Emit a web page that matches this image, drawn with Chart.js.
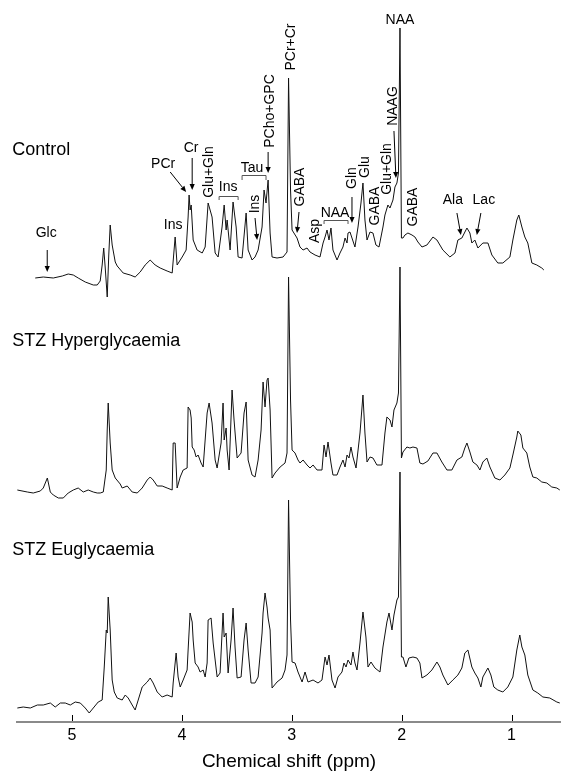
<!DOCTYPE html>
<html><head><meta charset="utf-8">
<script src="https://cdn.jsdelivr.net/npm/chart.js@4.4.1/dist/chart.umd.min.js"></script>
<style>html,body{margin:0;padding:0;background:#fff}canvas{display:block}</style>
</head><body>
<canvas id="c" width="561" height="771"></canvas>
<script>
// ---------- DATA ----------
const tickLabels = [5, 4, 3, 2, 1];
const spectrumNames = ["Control", "STZ Hyperglycaemia", "STZ Euglycaemia"];

const controlPpm = [5.334,5.261,5.170,5.088,5.034,4.988,4.943,4.879,4.806,4.770,
4.743,4.725,4.711,4.697,4.679,4.665,4.652,4.634,4.606,4.588,
4.534,4.470,4.425,4.379,4.334,4.288,4.243,4.197,4.134,4.088,
4.061,4.043,3.997,3.961,3.943,3.934,3.925,3.915,3.897,3.861,
3.815,3.788,3.761,3.725,3.697,3.670,3.634,3.615,3.597,3.588,
3.561,3.534,3.506,3.488,3.452,3.415,3.397,3.361,3.334,3.306,
3.270,3.252,3.234,3.215,3.197,3.179,3.134,3.079,3.043,3.029,
3.011,2.997,2.952,2.925,2.897,2.861,2.834,2.788,2.743,2.715,
2.697,2.679,2.661,2.643,2.625,2.588,2.561,2.534,2.515,2.497,
2.488,2.470,2.452,2.425,2.397,2.370,2.352,2.334,2.315,2.288,
2.261,2.234,2.206,2.170,2.152,2.125,2.106,2.079,2.061,2.043,
2.029,2.015,2.002,1.988,1.970,1.943,1.906,1.879,1.852,1.815,
1.770,1.715,1.679,1.625,1.561,1.515,1.488,1.452,1.406,1.379,
1.361,1.334,1.306,1.261,1.215,1.179,1.125,1.079,1.015,0.988,
0.952,0.934,0.906,0.879,0.852,0.815,0.770,0.725,0.706];
const controlIntensity = [12,13,12,14,16,15,12,8,5,5,
9,25,42,22,-7,35,65,45,28,24,
17,15,13,18,25,30,25,22,19,17,
53,25,33,40,73,95,80,85,50,40,
37,43,87,73,37,33,63,85,60,70,
40,88,63,33,32,77,40,30,33,40,
63,100,87,110,57,33,32,33,38,212,
100,60,52,43,40,42,38,35,33,47,
53,60,50,62,40,30,37,43,52,47,
57,58,52,43,63,87,107,70,50,58,
57,45,43,63,75,85,82,90,103,107,
117,262,52,52,55,57,55,53,48,43,
45,53,50,40,33,37,50,52,62,57,
47,50,42,47,47,35,27,27,33,50,
70,75,63,53,47,27,25,22,20];

const hyperPpm = [5.497,5.406,5.352,5.288,5.261,5.224,5.197,5.170,5.124,5.079,
5.034,4.988,4.943,4.897,4.852,4.806,4.770,4.743,4.715,4.688,
4.679,4.670,4.652,4.634,4.606,4.561,4.543,4.497,4.452,4.406,
4.361,4.315,4.288,4.261,4.224,4.179,4.134,4.088,4.079,4.061,
4.043,4.015,3.988,3.952,3.943,3.925,3.915,3.906,3.888,3.870,
3.852,3.825,3.806,3.770,3.752,3.725,3.697,3.679,3.643,3.625,
3.615,3.597,3.588,3.570,3.543,3.525,3.497,3.461,3.434,3.415,
3.397,3.361,3.334,3.306,3.279,3.261,3.243,3.225,3.215,3.197,
3.179,3.152,3.106,3.061,3.043,3.029,3.011,2.997,2.970,2.943,
2.925,2.897,2.861,2.834,2.806,2.770,2.725,2.706,2.688,2.670,
2.643,2.625,2.588,2.561,2.534,2.515,2.497,2.479,2.461,2.443,
2.415,2.379,2.352,2.334,2.315,2.288,2.261,2.225,2.179,2.152,
2.134,2.106,2.088,2.070,2.043,2.029,2.015,2.002,1.988,1.952,
1.925,1.897,1.861,1.834,1.806,1.761,1.715,1.679,1.634,1.588,
1.543,1.497,1.452,1.425,1.406,1.379,1.352,1.315,1.288,1.261,
1.225,1.197,1.152,1.106,1.061,1.015,0.988,0.952,0.943,0.915,
0.897,0.861,0.834,0.806,0.770,0.725,0.679,0.634,0.588,0.561];
const hyperIntensity = [10,8,7,9,12,22,8,5,2,2,
7,10,12,8,10,8,7,7,8,30,
70,97,57,30,22,16,12,14,8,7,
12,20,23,20,14,14,12,10,57,57,
12,23,30,32,93,90,82,53,50,43,
45,37,33,87,97,77,40,32,57,97,
60,72,50,30,110,80,42,47,87,98,
40,25,23,40,70,118,93,120,122,90,
22,27,33,37,47,223,100,50,47,40,
37,40,35,32,35,30,30,55,43,58,
37,25,25,33,40,33,45,42,53,43,
32,67,105,67,38,43,42,35,35,67,
83,80,73,90,97,107,233,42,48,53,
52,53,52,37,36,39,47,47,38,30,
30,40,43,52,57,48,38,35,30,38,
42,33,22,20,25,32,45,63,69,65,
52,47,33,23,22,18,17,13,12,10];

const euPpm = [5.497,5.443,5.379,5.315,5.261,5.197,5.152,5.106,5.061,5.015,
4.970,4.924,4.879,4.843,4.806,4.761,4.725,4.706,4.688,4.679,
4.670,4.652,4.634,4.615,4.588,4.543,4.515,4.488,4.452,4.425,
4.397,4.361,4.315,4.288,4.261,4.224,4.179,4.134,4.088,4.079,
4.052,4.034,4.015,3.988,3.952,3.943,3.925,3.906,3.897,3.879,
3.852,3.834,3.806,3.788,3.770,3.761,3.734,3.715,3.679,3.652,
3.625,3.615,3.597,3.579,3.552,3.534,3.516,3.497,3.461,3.434,
3.415,3.397,3.370,3.334,3.306,3.270,3.261,3.243,3.225,3.215,
3.197,3.179,3.134,3.088,3.061,3.043,3.029,3.011,2.997,2.970,
2.943,2.906,2.879,2.852,2.806,2.761,2.725,2.697,2.679,2.661,
2.634,2.606,2.579,2.543,2.525,2.506,2.488,2.461,2.443,2.425,
2.406,2.379,2.352,2.325,2.306,2.279,2.243,2.197,2.170,2.134,
2.115,2.088,2.070,2.043,2.029,2.015,2.002,1.988,1.961,1.934,
1.897,1.861,1.834,1.815,1.770,1.725,1.679,1.652,1.625,1.579,
1.534,1.488,1.452,1.425,1.397,1.361,1.334,1.306,1.279,1.261,
1.215,1.188,1.161,1.125,1.079,1.034,0.988,0.952,0.925,0.906,
0.879,0.852,0.806,0.761,0.715,0.652,0.588,0.561];
const euIntensity = [12,13,12,15,15,17,13,17,17,15,
18,17,12,7,12,18,20,53,90,87,
123,90,40,28,22,20,25,22,15,10,
20,33,38,42,37,28,23,25,23,37,
67,43,33,40,50,70,107,98,80,57,
53,48,50,43,57,100,102,77,43,47,
107,83,87,47,80,112,73,42,43,80,
97,70,37,37,43,87,107,127,113,102,
90,32,38,42,50,65,220,100,58,57,
48,38,48,38,40,37,40,63,55,65,
40,32,43,48,57,53,60,55,68,57,
50,77,108,83,53,58,52,48,73,98,
107,90,105,120,123,248,63,63,53,62,
63,62,57,42,45,50,58,53,45,35,
40,45,52,67,70,53,47,42,33,43,
52,45,33,30,28,33,43,70,85,73,
65,45,30,27,23,22,18,17];

// ---------- LAYOUT / STYLE (not data) ----------
const stackOffsets = [432, 222, 2];
const namePositions = [{x:5.543, y:572}, {x:5.543, y:381}, {x:5.543, y:172}];
const labelFont = '14px "Liberation Sans", Arial, sans-serif';
const nameFont = '18px "Liberation Sans", Arial, sans-serif';

const annotations = [
 {t:'Glc', x:5.234, y:489},
 {t:'Ins', x:4.079, y:497},
 {t:'PCr', x:4.170, y:558},
 {t:'Cr', x:3.916, y:574},
 {t:'Glu+Gln', x:3.752, y:550, rot:true},
 {t:'Ins', x:3.579, y:535},
 {t:'Tau', x:3.361, y:554},
 {t:'Ins', x:3.334, y:518, rot:true},
 {t:'PCho+GPC', x:3.197, y:611, rot:true},
 {t:'PCr+Cr', x:3.006, y:675, rot:true},
 {t:'NAA', x:2.015, y:702},
 {t:'NAAG', x:2.079, y:616, rot:true},
 {t:'GABA', x:2.925, y:535, rot:true},
 {t:'Asp', x:2.788, y:491, rot:true},
 {t:'NAA', x:2.606, y:509},
 {t:'Gln', x:2.452, y:544, rot:true},
 {t:'Glu', x:2.334, y:555, rot:true},
 {t:'GABA', x:2.243, y:516, rot:true},
 {t:'Glu+Gln', x:2.134, y:553, rot:true},
 {t:'GABA', x:1.897, y:515, rot:true},
 {t:'Ala', x:1.534, y:522},
 {t:'Lac', x:1.252, y:522}
];
const arrows = [
 [5.225,472,5.225,450],[4.106,550,3.961,530],[3.906,564,3.906,532],
 [3.334,504,3.315,482],[3.215,570,3.215,549],[2.070,591,2.052,544],
 [2.934,510,2.952,489],[2.452,525,2.452,499],[1.497,509,1.461,487],
 [1.279,509,1.316,487]
];
const brackets = [[3.661,3.488,526,522],[3.452,3.234,547,542],[2.706,2.488,502,498]];

function toPoints(ppm, inten, off){ return ppm.map((p,i)=>({x:p, y:inten[i]+off})); }

const overlay = {
  id:'overlay',
  afterDraw(chart){
    const {ctx, scales:{x, y}, chartArea} = chart;
    ctx.save();
    ctx.strokeStyle = '#000'; ctx.fillStyle = '#000'; ctx.lineWidth = 1;
    // inward tick marks
    tickLabels.forEach(v=>{
      const px = Math.round(x.getPixelForValue(v)) + 0.5;
      ctx.beginPath(); ctx.moveTo(px, chartArea.bottom - 1); ctx.lineTo(px, chartArea.bottom - 7); ctx.stroke();
    });
    // spectrum names
    ctx.font = nameFont; ctx.textAlign = 'left'; ctx.textBaseline = 'middle';
    spectrumNames.forEach((n,i)=> ctx.fillText(n, x.getPixelForValue(namePositions[i].x), y.getPixelForValue(namePositions[i].y)));
    // labels
    ctx.font = labelFont; ctx.textAlign = 'center';
    annotations.forEach(a=>{
      const px = x.getPixelForValue(a.x), py = y.getPixelForValue(a.y);
      if (a.rot){ ctx.save(); ctx.translate(px, py); ctx.rotate(-Math.PI/2); ctx.fillText(a.t, 0, 0); ctx.restore(); }
      else ctx.fillText(a.t, px, py);
    });
    // arrows
    arrows.forEach(a=>{
      const x1 = x.getPixelForValue(a[0]), y1 = y.getPixelForValue(a[1]);
      const x2 = x.getPixelForValue(a[2]), y2 = y.getPixelForValue(a[3]);
      const ang = Math.atan2(y2-y1, x2-x1), L = 6, W = 2.6;
      const bx = x2 - L*Math.cos(ang), by = y2 - L*Math.sin(ang);
      ctx.beginPath(); ctx.moveTo(x1, y1); ctx.lineTo(bx, by); ctx.stroke();
      ctx.beginPath(); ctx.moveTo(x2, y2);
      ctx.lineTo(bx + W*Math.sin(ang), by - W*Math.cos(ang));
      ctx.lineTo(bx - W*Math.sin(ang), by + W*Math.cos(ang));
      ctx.closePath(); ctx.fill();
    });
    // brackets
    ctx.strokeStyle = '#555';
    brackets.forEach(b=>{
      const xa = x.getPixelForValue(b[0]), xb = x.getPixelForValue(b[1]);
      const yt = Math.round(y.getPixelForValue(b[2])) + 0.5, yb = y.getPixelForValue(b[3]);
      ctx.beginPath(); ctx.moveTo(xa, yb); ctx.lineTo(xa, yt); ctx.lineTo(xb, yt); ctx.lineTo(xb, yb); ctx.stroke();
    });
    ctx.restore();
  }
};

const dsStyle = {borderColor:'#111', borderWidth:1, pointRadius:0, tension:0, fill:false};
new Chart(document.getElementById('c'), {
  type:'line',
  data:{ datasets:[
    Object.assign({label:spectrumNames[0], data:toPoints(controlPpm, controlIntensity, stackOffsets[0])}, dsStyle),
    Object.assign({label:spectrumNames[1], data:toPoints(hyperPpm, hyperIntensity, stackOffsets[1])}, dsStyle),
    Object.assign({label:spectrumNames[2], data:toPoints(euPpm, euIntensity, stackOffsets[2])}, dsStyle)
  ]},
  options:{
    responsive:false, animation:false, devicePixelRatio:1,
    layout:{padding:{left:17, right:0, top:0, bottom:0}},
    plugins:{legend:{display:false}, tooltip:{enabled:false}},
    scales:{
      x:{type:'linear', reverse:true, min:0.55, max:5.5,
         afterBuildTicks: s => { s.ticks = tickLabels.map(v=>({value:v})); },
         grid:{display:false, drawTicks:false},
         border:{display:true, color:'#8a8a8a', width:2},
         ticks:{color:'#000', padding:4, font:{family:'"Liberation Sans", Arial, sans-serif', size:16}},
         title:{display:true, text:'Chemical shift (ppm)', color:'#000', padding:{top:2.8, bottom:0},
                font:{family:'"Liberation Sans", Arial, sans-serif', size:19, lineHeight:1}}
      },
      y:{display:false, min:0, max:722}
    }
  },
  plugins:[overlay]
});
</script>
</body></html>
